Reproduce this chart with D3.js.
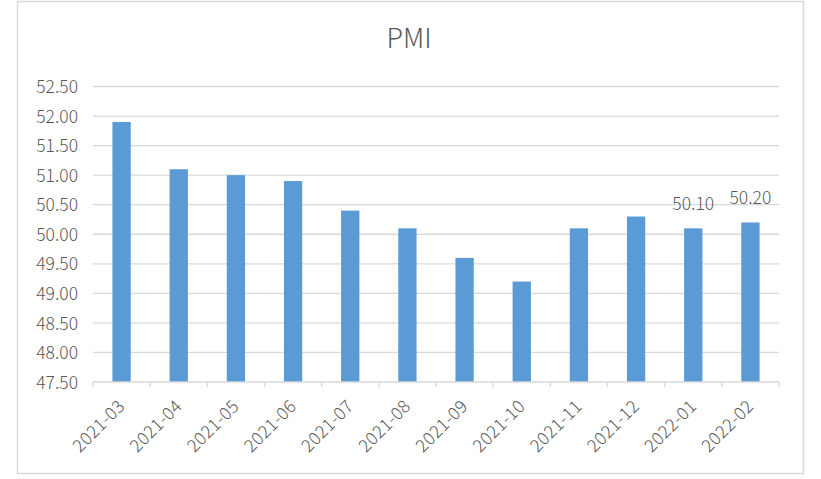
<!DOCTYPE html>
<html><head><meta charset="utf-8">
<script src="https://cdn.jsdelivr.net/npm/d3@7"></script>
<style>
html,body{margin:0;padding:0;background:#fff;}
svg{display:block;}
text{font-family:"Noto Sans CJK SC","Noto Sans",sans-serif;}
</style></head>
<body>
<svg id="c" width="821" height="479"></svg>
<script>
const categories = ["2021-03","2021-04","2021-05","2021-06","2021-07","2021-08","2021-09","2021-10","2021-11","2021-12","2022-01","2022-02"];
const pmiValues = [51.9,51.1,51.0,50.9,50.4,50.1,49.6,49.2,50.1,50.3,50.1,50.2];
const labeledCategories = ["2022-01","2022-02"];
const yTicks = [47.5,48,48.5,49,49.5,50,50.5,51,51.5,52,52.5];
const title = "PMI";

const svg = d3.select("#c");
const W = 821, H = 479;
const m = {left:93, right:42, top:86.5, bottom:97};
const textColor = "#595959";

// outer border
svg.append("rect").attr("x",17.5).attr("y",1.5).attr("width",786).attr("height",472)
  .attr("fill","#fff").attr("stroke","#d9d9d9").attr("stroke-width",1.5);

const x = d3.scaleBand().domain(categories).range([m.left, W-m.right]).paddingInner(0.68).paddingOuter(0.34);
const y = d3.scaleLinear().domain([47.5,52.5]).range([H-m.bottom, m.top]);

// gridlines
svg.append("g").selectAll("line").data(yTicks.slice(1)).join("line")
  .attr("x1",m.left).attr("x2",W-m.right)
  .attr("y1",d=>y(d)).attr("y2",d=>y(d))
  .attr("stroke","#d9d9d9").attr("stroke-width",1.3);

// y axis labels
const yAxis = d3.axisLeft(y).tickValues(yTicks).tickFormat(d3.format(".2f")).tickSize(0).tickPadding(15);
const yg = svg.append("g").attr("transform",`translate(${m.left},0)`).call(yAxis);
yg.select(".domain").remove();
yg.selectAll("text").attr("fill",textColor).style("font-size","17.5px").style("font-weight","300")
  .attr("dy","0.35em");

// bars
svg.append("g").selectAll("rect").data(categories).join("rect")
  .attr("x",d=>x(d)).attr("width",x.bandwidth())
  .attr("y",(d,i)=>y(pmiValues[i]))
  .attr("height",(d,i)=>y(47.5)-y(pmiValues[i]))
  .attr("fill","#5b9bd5");

// x axis
const xg = svg.append("g").attr("transform",`translate(0,${y(47.5)})`);
xg.append("line").attr("x1",m.left).attr("x2",W-m.right).attr("stroke","#d9d9d9").attr("stroke-width",1.3);
const bounds = d3.range(categories.length+1).map(i=>m.left + i*(W-m.left-m.right)/categories.length);
xg.selectAll(".tk").data(bounds).join("line").attr("class","tk")
  .attr("x1",d=>d).attr("x2",d=>d).attr("y1",0).attr("y2",5)
  .attr("stroke","#d9d9d9").attr("stroke-width",1.3);
xg.selectAll(".lbl").data(categories).join("text").attr("class","lbl")
  .attr("transform",d=>`translate(${x(d)+x.bandwidth()/2},${21}) rotate(-45)`)
  .attr("text-anchor","end").attr("dy","0.35em")
  .attr("fill",textColor).style("font-size","17.5px").style("font-weight","300")
  .style("letter-spacing","0.4px")
  .text(d=>d);

// data labels
svg.append("g").selectAll("text").data(labeledCategories).join("text")
  .attr("x",d=>x(d)+x.bandwidth()/2)
  .attr("y",d=>y(pmiValues[categories.indexOf(d)])-18)
  .attr("text-anchor","middle").attr("fill",textColor)
  .style("font-size","17.5px").style("font-weight","300")
  .text(d=>d3.format(".2f")(pmiValues[categories.indexOf(d)]));

// title
svg.append("text").attr("x",409).attr("y",48).attr("text-anchor","middle")
  .attr("fill",textColor).style("font-size","27px").style("font-weight","300").text(title);
</script>
</body></html>
